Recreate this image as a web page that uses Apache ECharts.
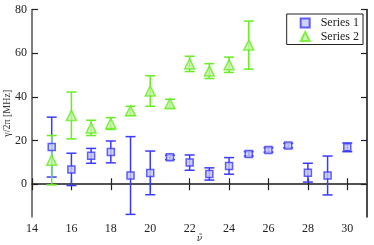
<!DOCTYPE html>
<html><head><meta charset="utf-8">
<script src="https://cdn.jsdelivr.net/npm/echarts@6/dist/echarts.min.js"></script>
<style>html,body{margin:0;padding:0;background:#fff}#c{width:374px;height:245px}</style>
</head><body><div id="c"></div>
<script>
var x1 = [15,16,17,18,19,20,21,22,23,24,25,26,27,28,29,30];
var y1 = [17,6.8,13,14.8,4,5.2,12.3,9.9,4.7,8.4,13.9,15.7,17.7,5.3,4,16.9];
var e1 = [13.7,7.4,3.4,5,17.8,10,1,3.5,2.8,3.8,1,1,1,4.3,8.9,2];
var x2 = [15,16,17,18,19,20,21,22,23,24,25];
var y2 = [11,31.5,25.8,27.8,33.6,42.7,36.9,55.1,51.8,54.7,63.7];
var e2 = [11.3,10.7,3.5,2.7,2.1,7,2,3.5,3.4,3.5,11];
var xTicks = [14,16,18,20,22,24,26,28,30];
var yTicks = [0,20,40,60,80];

var c1 = '#3a3aff', f1 = '#c4c8f2';
var c2 = '#66ee22', f2 = '#c6f2a8';
var font = 'Liberation Serif, DejaVu Serif, serif';

function errData(xs, ys, es){ return xs.map(function(x,i){ return [x, ys[i]-es[i], ys[i]+es[i]]; }); }
function errRender(color){
  return function(params, api){
    var x = api.value(0);
    var lo = api.coord([x, api.value(1)]);
    var hi = api.coord([x, api.value(2)]);
    var w = 5;
    var st = {stroke: color, lineWidth: 1.5};
    return {type:'group', children:[
      {type:'line', shape:{x1:lo[0], y1:lo[1], x2:hi[0], y2:hi[1]}, style:st},
      {type:'line', shape:{x1:lo[0]-w, y1:lo[1], x2:lo[0]+w, y2:lo[1]}, style:st},
      {type:'line', shape:{x1:hi[0]-w, y1:hi[1], x2:hi[0]+w, y2:hi[1]}, style:st}
    ]};
  };
}
function pts(xs, ys){ return xs.map(function(x,i){ return [x, ys[i]]; }); }

var chart = echarts.init(document.getElementById('c'), null, {renderer:'canvas'});
chart.setOption({
  animation:false,
  textStyle:{fontFamily:font},
  grid:{left:32, top:9.5, right:7, bottom:28, containLabel:false, outerBoundsMode:'none'},
  legend:{
    right:11, top:14, orient:'vertical',
    data:[{name:'Series 1', icon:'rect'},{name:'Series 2', icon:'triangle'}],
    itemWidth:9, itemHeight:9, itemGap:1.5,
    borderColor:'#222', borderWidth:1, borderRadius:0, padding:[3,4,2,13],
    backgroundColor:'#fff',
    textStyle:{fontFamily:font, fontSize:12, color:'#222', padding:[0,0,0,6]}
  },
  xAxis:[{
    type:'value', min:14, max:31, position:'bottom',
    name:'ν̃', nameLocation:'middle', nameGap:17, nameMoveOverlap:false,
    nameTextStyle:{fontFamily:'DejaVu Serif, serif', fontSize:9, color:'#333', fontStyle:'italic'},
    axisLine:{lineStyle:{color:'#111', width:1.5}},
    axisTick:{inside:true, length:6, customValues:xTicks, lineStyle:{color:'#222', width:1.2}},
    axisLabel:{customValues:xTicks, fontFamily:font, fontSize:12, color:'#222', margin:6},
    splitLine:{show:false}
  },{
    type:'value', min:14, max:31, position:'top',
    axisLine:{lineStyle:{color:'#555', width:1.5}},
    axisTick:{inside:true, length:6, customValues:xTicks, lineStyle:{color:'#222', width:1.2}},
    axisLabel:{show:false}, splitLine:{show:false}
  }],
  yAxis:[{
    type:'value', min:-15, max:80, position:'left',
    name:'γ/2π [MHz]', nameLocation:'middle', nameGap:20, nameMoveOverlap:false,
    nameTextStyle:{fontFamily:font, fontSize:10, color:'#333'},
    axisLine:{show:true, lineStyle:{color:'#555', width:1.5}},
    axisTick:{show:true, inside:true, length:6, customValues:yTicks, lineStyle:{color:'#222', width:1.2}},
    axisLabel:{customValues:yTicks, fontFamily:font, fontSize:12, color:'#222', margin:5},
    splitLine:{show:false}
  },{
    type:'value', min:-15, max:80, position:'right',
    axisLine:{show:true, lineStyle:{color:'#111', width:1.5}},
    axisTick:{show:true, inside:true, length:6, customValues:yTicks, lineStyle:{color:'#222', width:1.2}},
    axisLabel:{show:false}, splitLine:{show:false}
  }],
  series:[
    {name:'err1', type:'custom', renderItem:errRender(c1), data:errData(x1,y1,e1), z:2, silent:true},
    {name:'err2', type:'custom', renderItem:errRender(c2), data:errData(x2,y2,e2), z:2, silent:true},
    {name:'Series 1', type:'scatter', symbol:'rect', symbolSize:7, data:pts(x1,y1), z:3,
     itemStyle:{color:f1, borderColor:c1, borderWidth:1.5}},
    {name:'Series 2', type:'scatter', symbol:'triangle', symbolSize:10, data:pts(x2,y2), z:3,
     itemStyle:{color:f2, borderColor:c2, borderWidth:1.5}}
  ]
});
</script></body></html>
